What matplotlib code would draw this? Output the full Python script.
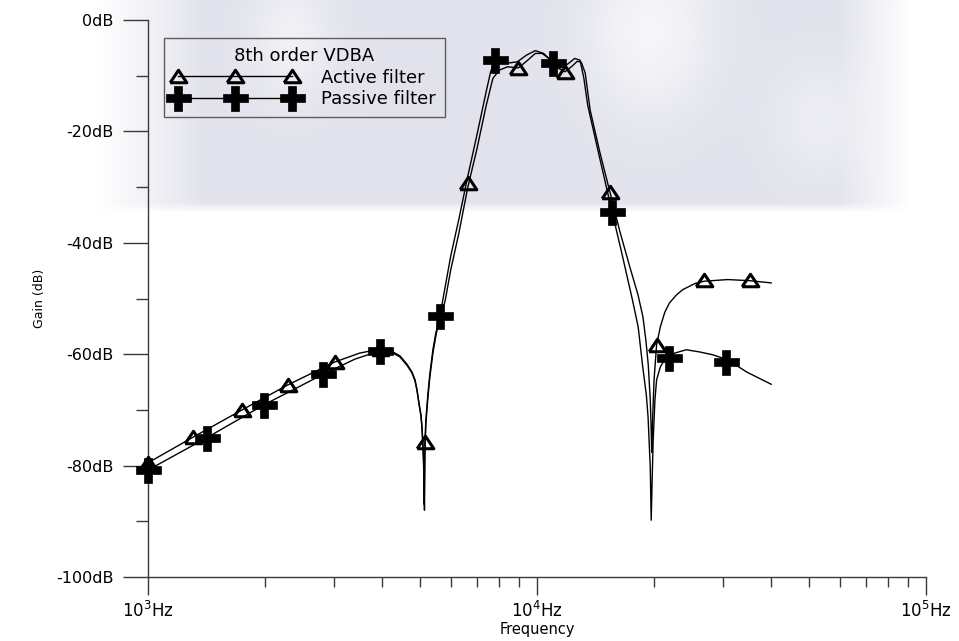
import matplotlib

matplotlib.use("Agg")
import matplotlib.pyplot as plt
import numpy as np
from matplotlib.lines import Line2D
from matplotlib.ticker import FixedLocator, LogLocator, NullFormatter

# Digitised response of the 8th order VDBA band-pass filter (Hz, dB)
active_freq = [1000, 1305, 1745, 2290, 3020, 3500, 3940, 4264, 4444, 4633,
               4772, 4858, 4916, 4974, 5033, 5063, 5092, 5122, 5137, 5150,
               5180, 5240, 5300, 5400, 5500, 5630, 5810, 6000, 6300, 6640,
               7000, 7400, 7700, 8000, 8400, 8950, 9400, 9900, 10300, 10800,
               11300, 11800, 12300, 12700, 13000, 13300, 13700, 14500, 15400,
               16350, 17350, 18190, 18720, 19050, 19320, 19550, 19660, 19720,
               19850, 20000, 20300, 20750, 21300, 21900, 22800, 23700, 25500,
               26900, 30900, 35200, 40000]
active_db = [-79.5, -74.9, -70.0, -65.5, -61.4, -59.8, -59.1, -59.6, -60.3, -61.8,
             -63.2, -64.6, -66.4, -68.8, -70.9, -73.1, -76.3, -80.8, -88.0, -75.8,
             -71.8, -67.3, -63.7, -59.2, -56.0, -54.0, -50.3, -44.9, -38.2, -30.0,
             -23.3, -15.4, -10.5, -9.0, -8.4, -8.6, -7.4, -6.0, -6.0, -7.0,
             -8.6, -9.3, -8.3, -7.4, -7.6, -9.5, -16.2, -23.7, -30.9,
             -38.1, -44.5, -49.4, -53.3, -57.5, -61.9, -68.2, -73.6, -77.6,
             -70.5, -64.5, -58.3, -55.1, -52.5, -50.8, -49.4, -48.4, -47.3,
             -46.9, -46.6, -46.8, -47.2]

passive_freq = [1000, 1416, 1985, 2820, 3400, 3940, 4264, 4444, 4633, 4772,
                4858, 4916, 4974, 5033, 5063, 5092, 5115, 5130, 5150, 5180,
                5240, 5300, 5400, 5500, 5630, 6000, 6300, 6640, 7000, 7400,
                7600, 7800, 8100, 8500, 8900, 9400, 9900, 10400, 11000, 11500,
                12000, 12500, 12900, 13200, 13500, 14300, 15600, 16500, 17600,
                18200, 18700, 19100, 19300, 19550, 19660, 19770, 19890, 20100,
                20300, 20750, 21400, 22600, 24200, 26200, 28300, 30900, 34600,
                40000]
passive_db = [-80.8, -75.0, -69.1, -63.6, -60.9, -59.4, -59.8, -60.5, -62.0, -63.4,
              -64.8, -66.6, -69.0, -71.2, -73.4, -76.6, -81.0, -87.0, -78.0, -72.5,
              -68.0, -64.3, -59.8, -56.6, -53.1, -42.4, -35.7, -28.0, -20.8, -12.9,
              -9.3, -7.2, -7.0, -7.7, -7.5, -6.3, -5.5, -6.0, -7.7, -8.6,
              -7.9, -6.9, -7.2, -10.5, -15.3, -23.0, -34.5, -41.7, -50.3,
              -55.1, -62.3, -67.3, -71.3, -80.3, -89.8, -82.6, -75.4, -68.2,
              -64.6, -62.3, -60.7, -59.8, -59.2, -59.6, -60.1, -61.0, -63.2,
              -65.4]

# marker positions along each trace
active_mark_freq = [1000, 1305, 1745, 2290, 3020, 3940, 5150, 6640, 8950,
                    11800, 15400, 20300, 26900, 35200]
active_mark_db = [-79.5, -74.9, -70.0, -65.5, -61.4, -59.1, -75.8, -29.3, -8.6,
                  -9.3, -30.9, -58.3, -46.7, -46.7]
passive_mark_freq = [1000, 1416, 1985, 2820, 3940, 5630, 7800, 11000, 15600,
                     21800, 30600]
passive_mark_db = [-80.8, -75.0, -69.1, -63.6, -59.4, -53.1, -7.2, -7.7, -34.5,
                   -60.7, -61.4]

y_ticks = [0, -20, -40, -60, -80, -100]
y_labels = ["0dB", "-20dB", "-40dB", "-60dB", "-80dB", "-100dB"]
x_ticks = [1e3, 1e4, 1e5]
x_labels = [r"$\mathregular{10^3}$Hz", r"$\mathregular{10^4}$Hz", r"$\mathregular{10^5}$Hz"]

plt.rcParams["font.family"] = ["DejaVu Sans"]
AX_COL = "#3a3a3a"

fig = plt.figure(figsize=(9.59, 6.41), dpi=100)

# faint watermark-like backdrop in the upper part of the picture
bg = fig.add_axes([0, 0, 1, 1], zorder=-5)
bg.axis("off")
H, W = 641, 959
yy, xx = np.mgrid[0:H, 0:W]
shade = np.clip((212 - yy) / 10.0, 0, 1) * np.clip((xx - 95) / 110.0, 0, 1)
shade *= np.clip((910 - xx) / 70.0, 0, 1)
blob = np.exp(-(((xx - 650) / 60.0) ** 2 + ((yy - 30) / 80.0) ** 2))
blob += 0.7 * np.exp(-(((xx - 290) / 40.0) ** 2 + ((yy - 40) / 60.0) ** 2))
blob += 0.5 * np.exp(-(((xx - 820) / 50.0) ** 2 + ((yy - 120) / 60.0) ** 2))
strength = shade * (1 - 0.7 * np.clip(blob, 0, 1))
img = np.ones((H, W, 3))
tint = np.array([0.89, 0.89, 0.93])
img = img * (1 - strength[..., None]) + tint * strength[..., None]
bg.imshow(img, extent=[0, 1, 0, 1], aspect="auto")

ax = fig.add_axes([148 / 959, 64 / 641, 778 / 959, 557 / 641])
ax.patch.set_alpha(0)

ax.plot(active_freq, active_db, color="black", lw=1.0)
ax.plot(passive_freq, passive_db, color="black", lw=1.0)

tri = [(-1, -0.75), (1, -0.75), (0, 0.75), (-1, -0.75)]
ax.plot(active_mark_freq, active_mark_db, ls="none", marker=tri, ms=12,
        mfc="none", mec="black", mew=2.2, clip_on=False, zorder=4)
ax.plot(passive_mark_freq, passive_mark_db, ls="none", marker="P", ms=18,
        mfc="black", mec="black", mew=0.5, clip_on=False, zorder=4)

ax.set_xscale("log")
ax.set_xlim(1e3, 1e5)
ax.set_ylim(-100, 0)

ax.set_xticks(x_ticks)
ax.set_xticklabels(x_labels)
ax.xaxis.set_minor_locator(LogLocator(base=10, subs=np.arange(2, 10)))
ax.xaxis.set_minor_formatter(NullFormatter())
ax.set_yticks(y_ticks)
ax.set_yticklabels(y_labels)
ax.yaxis.set_minor_locator(FixedLocator([-10, -30, -50, -70, -90]))

ax.tick_params(axis="x", which="major", direction="out", length=13, width=1,
               color=AX_COL, labelsize=12, pad=4)
ax.tick_params(axis="x", which="minor", direction="out", length=7, width=1,
               color=AX_COL)
ax.tick_params(axis="y", which="major", direction="out", length=18, width=1,
               color=AX_COL, labelsize=11.5, pad=7)
ax.tick_params(axis="y", which="minor", direction="out", length=8.5, width=1,
               color=AX_COL)

for side in ("top", "right"):
    ax.spines[side].set_visible(False)
for side in ("left", "bottom"):
    ax.spines[side].set_color(AX_COL)
    ax.spines[side].set_linewidth(1)

ax.set_xlabel("Frequency", fontsize=10.5, labelpad=1)
ax.set_ylabel("Gain (dB)", fontsize=9, labelpad=7)

handles = [
    Line2D([], [], color="black", lw=1.0, marker=tri, ms=12, mfc="none",
           mec="black", mew=2.2),
    Line2D([], [], color="black", lw=1.0, marker="P", ms=18, mfc="black",
           mec="black", mew=0.5),
]
leg = ax.legend(handles, ["Active filter", "Passive filter"], title="8th order VDBA",
                loc="upper left", bbox_to_anchor=(164 / 959, 1 - 38 / 641),
                bbox_transform=fig.transFigure, numpoints=3, handlelength=6.9,
                fontsize=13, title_fontsize=13, frameon=True, fancybox=False,
                borderpad=0.5, labelspacing=0.2, handletextpad=1.3,
                borderaxespad=0)
leg.get_frame().set_edgecolor(AX_COL)
leg.get_frame().set_linewidth(1)
leg.get_frame().set_facecolor("none")

fig.savefig("out.png", dpi=100)
